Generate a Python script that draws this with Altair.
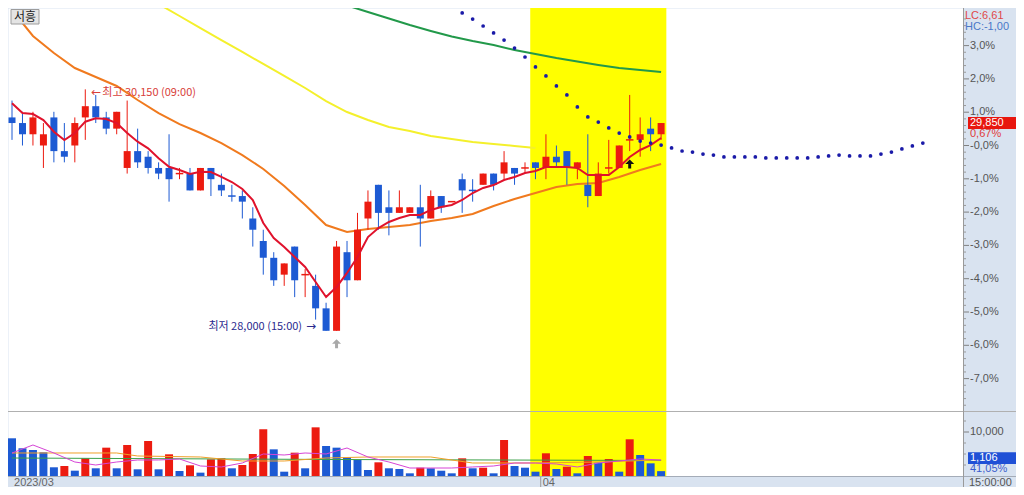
import altair as alt
import pandas as pd
import numpy as np

# ---------------- data ----------------
BASE_PRICE = 29650            # price shown as 0,0 %
HIGH_TIME = "09:00"
LOW_TIME = "15:00"
LC_TEXT = "LC:6,61"
HC_TEXT = "HC:-1,00"
VOL_RATIO = 41.05
TODAY_START = 49.5            # highlighted session (candle index)
TODAY_END = 62.5
MONTH_BREAK = 50.5
DATE_LABELS = ["2023/03", "04"]
DATE_POS = [0, 50.5]
TIME_LABEL = "15:00:00"
STOCK_NAME = "서흥"

opens = [29900, 29850, 29750, 29650, 29900, 29600, 29650, 29900, 30000, 29900,
         29800, 29450, 29600, 29550, 29450, 29450, 29400, 29400, 29250, 29450,
         29300, 29200, 29200, 29000, 28800, 28650, 28500, 28750, 28500, 28400,
         28200, 28000, 28700, 28450, 29000, 29300, 29100, 29050, 29050, 29100,
         29000, 29200, 29150, 29350, 29250, 29300, 29400, 29400, 29450, 29450,
         29500, 29450, 29550, 29600, 29450, 29300, 29200, 29450, 29450, 29700,
         29700, 29800, 29750]
highs = [30050, 29950, 29950, 29850, 29950, 29850, 29900, 30150, 30100, 29950,
         29950, 30050, 29800, 29600, 29500, 29750, 29450, 29450, 29450, 29450,
         29400, 29300, 29250, 29100, 28900, 28700, 28600, 28750, 28550, 28500,
         28250, 28800, 28800, 29050, 29250, 29300, 29250, 29250, 29100, 29300,
         29250, 29200, 29150, 29400, 29350, 29400, 29400, 29600, 29450, 29500,
         29500, 29750, 29650, 29600, 29500, 29750, 29500, 29700, 29650, 30100,
         29900, 29900, 29850]
lows = [29700, 29650, 29650, 29450, 29500, 29500, 29500, 29700, 29850, 29750,
        29750, 29400, 29450, 29400, 29350, 29150, 29350, 29250, 29250, 29200,
        29200, 29150, 29000, 28750, 28500, 28400, 28400, 28300, 28300, 28100,
        28000, 28000, 28300, 28450, 28900, 28900, 28850, 29050, 29050, 28750,
        29000, 29050, 29150, 29050, 29150, 29300, 29250, 29350, 29300, 29400,
        29350, 29350, 29450, 29300, 29350, 29100, 29200, 29400, 29450, 29600,
        29550, 29600, 29700]
closes = [29850, 29750, 29900, 29750, 29600, 29550, 29850, 30000, 29900, 29800,
          29950, 29600, 29500, 29450, 29400, 29350, 29400, 29250, 29450, 29350,
          29250, 29200, 29150, 28900, 28650, 28450, 28600, 28450, 28500, 28200,
          28000, 28750, 28450, 28900, 29150, 29050, 29050, 29100, 29100, 29000,
          29200, 29100, 29150, 29250, 29250, 29400, 29300, 29500, 29400, 29450,
          29450, 29550, 29500, 29450, 29500, 29200, 29400, 29450, 29650, 29700,
          29750, 29750, 29850]
volumes = [8570, 6300, 5910, 5390, 1980, 2270, 1210, 4020, 1750, 6440,
           1750, 7050, 1520, 7950, 1520, 4930, 1140, 2430, 760, 3790,
           4020, 1750, 2500, 5000, 10610, 6060, 980, 5300, 1750, 11060,
           6820, 6440, 4250, 3640, 1360, 3110, 1750, 1590, 610, 1890,
           1750, 1200, 610, 4020, 1750, 1890, 610, 8180, 2270, 1890,
           980, 5160, 1590, 2110, 610, 4550, 3030, 3860, 980, 8340,
           4770, 2880, 1106]

# price moving-average lines
ma_short = [30026, 29939, 29930, 29877, 29773, 29699, 29761, 29862, 29892, 29886,
            29850, 29761, 29684, 29625, 29536, 29461, 29432, 29396, 29417, 29414,
            29370, 29325, 29263, 29165, 28960, 28826, 28746, 28657, 28568, 28435,
            28301, 28390, 28515, 28657, 28835, 28915, 28969, 29004, 29031, 29031,
            29076, 29102, 29120, 29165, 29227, 29272, 29298, 29343, 29370, 29405,
            29423, 29459, 29459, 29459, 29450, 29387, 29387, 29387, 29459, 29548,
            29610, 29654, 29717]
ma_mid_idx = list(range(0, 63, 2))
ma_mid = [30856, 30625, 30474, 30340, 30260, 30180, 30055, 29939, 29841, 29761,
          29672, 29565, 29441, 29289, 29120, 28942, 28880, 28907, 28924, 28942,
          28978, 29004, 29040, 29111, 29174, 29227, 29280, 29307, 29316, 29370,
          29432, 29485]
ma_long_idx = [13] + list(range(14, 51, 2))
ma_long = [30954, 30910, 30803, 30696, 30589, 30483, 30376, 30269, 30162, 30046,
           29948, 29877, 29815, 29779, 29735, 29708, 29681, 29663, 29646, 29628]
ma_longest_idx = list(range(30, 63, 2))
ma_longest = [30963, 30897, 30839, 30781, 30723, 30670, 30621, 30580, 30545, 30500,
              30465, 30429, 30398, 30367, 30340, 30322, 30304]
proj_idx = list(range(41, 88))
proj = [30954, 30892, 30830, 30776, 30714, 30652, 30589, 30518, 30438, 30349,
        30269, 30180, 30100, 29993, 29904, 29859, 29806, 29761, 29726, 29690,
        29672, 29654, 29628, 29601, 29592, 29574, 29565, 29548, 29548, 29548,
        29548, 29539, 29539, 29539, 29539, 29539, 29548, 29557, 29565, 29557,
        29557, 29557, 29574, 29592, 29619, 29646, 29672]

# volume average lines
vma_short_idx = list(range(0, 63, 2))
vma_short = [5228, 7046, 5228, 3182, 2500, 3182, 3637, 3637, 3864, 2273,
             2046, 2955, 5001, 4773, 5228, 5001, 6364, 4319, 3182, 1818,
             1818, 1818, 2046, 2273, 2955, 2955, 2728, 2046, 2955, 3410,
             3864, 3637]
vma_mid_idx = [0, 10, 12, 18, 22, 26, 30, 34, 40, 44, 50, 56, 62]
vma_mid = [5228, 5228, 4546, 4319, 3410, 3410, 4091, 4319, 4319, 2955, 2955, 3182, 3637]
vma_long_idx = [0, 31, 62]
vma_long = [4091, 3750, 3523]

signal_idx = [31, 59]
signal_col = ["#a9a9a9", "#111111"]

# ---------------- styling / layout ----------------
RED = "#ec1b10"
BLUE = "#1d5ad3"
PANEL = "#d9e3f0"
W, H, PAD_R = 955, 479, 53
MAIN_BOTTOM = 403
ZERO_Y = 137.5
PX_PER_PCT = 33.3
STEP, FIRST_X = 10.58, -1.0

x_scale = alt.Scale(domain=[(0 - FIRST_X) / STEP, (W - FIRST_X) / STEP], nice=False, zero=False)
p_top = BASE_PRICE * (1 + ZERO_Y / PX_PER_PCT / 100)
p_bot = BASE_PRICE * (1 - (MAIN_BOTTOM - ZERO_Y) / PX_PER_PCT / 100)
y_main = alt.Scale(domain=[p_bot, p_top], range=[MAIN_BOTTOM, 0], nice=False, zero=False)
y_vol = alt.Scale(domain=[0, 10000], range=[468, 424], nice=False, zero=False)


def X(f):
    return alt.X(f, type="quantitative", scale=x_scale, axis=None)


def YP(f):
    return alt.Y(f, type="quantitative", scale=y_main, axis=None)


def YV(f):
    return alt.Y(f, type="quantitative", scale=y_vol, axis=None)


df = pd.DataFrame({"i": range(len(closes)), "open": opens, "high": highs,
                   "low": lows, "close": closes, "vol": volumes})
prev_c = df["close"].shift(1)
up = (df["close"] > df["open"]) | ((df["close"] == df["open"]) & (df["close"] > prev_c))
df["col"] = np.where(up, RED, BLUE)
df["vcol"] = np.where(df["vol"] > df["vol"].shift(1), RED, BLUE)
df["xl"] = df["i"] - 0.36
df["xr"] = df["i"] + 0.36

one = pd.DataFrame({"a": [0]})

# yellow session band
band = alt.Chart(pd.DataFrame({"s": [TODAY_START], "e": [TODAY_END]})).mark_rect(
    color="#ffff00").encode(x=X("s"), x2=alt.X2("e"), y=alt.value(-10), y2=alt.value(468))

# ---- main panel ----
def pline(xs, ys, color, w):
    d = pd.DataFrame({"i": xs, "p": ys})
    return alt.Chart(d).mark_line(color=color, strokeWidth=w).encode(x=X("i"), y=YP("p"))

l_mid = pline(ma_mid_idx, ma_mid, "#f07a1e", 2)
l_long = pline(ma_long_idx, ma_long, "#f4f02c", 2)
l_longest = pline(ma_longest_idx, ma_longest, "#22994a", 2)

wicks = alt.Chart(df).mark_rule(strokeWidth=1).encode(
    x=X("i"), y=YP("low"), y2=alt.Y2("high"), color=alt.Color("col:N", scale=None))
bodies = alt.Chart(df).transform_filter("datum.open != datum.close").mark_bar(size=7).encode(
    x=X("i"), y=YP("open"), y2=alt.Y2("close"), color=alt.Color("col:N", scale=None))
doji = alt.Chart(df).transform_filter("datum.open == datum.close").mark_rule(strokeWidth=1.5).encode(
    x=X("xl"), x2=alt.X2("xr"), y=YP("open"), color=alt.Color("col:N", scale=None))

l_short = pline(list(range(len(ma_short))), ma_short, "#e0122c", 2)

dots = alt.Chart(pd.DataFrame({"i": proj_idx, "p": proj})).mark_point(
    filled=True, size=14, opacity=1, color="#1a1aa8").encode(x=X("i"), y=YP("p"))

hi_i = int(df["high"].idxmax())
lo_i = int(df["low"].idxmin())
hi_df = pd.DataFrame({"i": [hi_i], "p": [int(df["high"].max())]})
hi_df["t"] = "최고 " + f"{int(df['high'].max()):,}" + f" ({HIGH_TIME})"
lo_df = pd.DataFrame({"i": [lo_i], "p": [int(df["low"].min())]})
lo_df["t"] = "최저 " + f"{int(df['low'].min()):,}" + f" ({LOW_TIME})"
HI_COL, LO_COL = "#d8403a", "#2a2a8e"
hi_txt = alt.Chart(hi_df).mark_text(align="left", baseline="middle", dx=17, dy=4, fontSize=11,
                                    font="Noto Sans CJK KR", color=HI_COL).encode(
    x=X("i"), y=YP("p"), text="t:N")
hi_arr = alt.Chart(hi_df).mark_text(align="center", baseline="middle", dx=11, dy=3, fontSize=12,
                                    font="DejaVu Sans", color=HI_COL, text="←").encode(x=X("i"), y=YP("p"))
lo_txt = alt.Chart(lo_df).mark_text(align="right", baseline="middle", dx=-24, dy=-4, fontSize=11,
                                    font="Noto Sans CJK KR", color=LO_COL).encode(
    x=X("i"), y=YP("p"), text="t:N")
lo_arr = alt.Chart(lo_df).mark_text(align="center", baseline="middle", dx=-15, dy=-5, fontSize=12,
                                    font="DejaVu Sans", color=LO_COL, text="→").encode(x=X("i"), y=YP("p"))

sig_df = pd.DataFrame({"i": signal_idx, "c": signal_col})
sig_df["p"] = [int(df.loc[k, "low"]) for k in signal_idx]
ARROW = "M-0.33,1L-0.33,0L-1,0L0,-1L1,0L0.33,0L0.33,1Z"
signals = alt.Chart(sig_df).mark_point(shape=ARROW, filled=True, size=81, opacity=1, yOffset=13).encode(
    x=X("i"), y=YP("p"), color=alt.Color("c:N", scale=None))

# right price axis (percent of BASE_PRICE)
major_pct = list(range(-7, 4))
tick_df = pd.DataFrame({"pct": major_pct})
tick_df["p"] = BASE_PRICE * (1 + tick_df["pct"] / 100)
tick_df["label"] = ["-0,0%" if k == 0 else f"{k:.1f}".replace(".", ",") + "%" for k in major_pct]
minor_df = pd.DataFrame({"pct": [round(k * 0.2, 1) for k in range(-39, 21) if k % 5 != 0]})
minor_df["p"] = BASE_PRICE * (1 + minor_df["pct"] / 100)
maj_ticks = alt.Chart(tick_df).mark_rule(color="#808080").encode(x=alt.value(955), x2=alt.value(961), y=YP("p"))
min_ticks = alt.Chart(minor_df).mark_rule(color="#9a9a9a").encode(x=alt.value(955), x2=alt.value(958), y=YP("p"))
tick_lbl = alt.Chart(tick_df).mark_text(align="left", baseline="middle", fontSize=11, font="Liberation Sans",
                                        color="#555555").encode(x=alt.value(962), y=YP("p"), text="label:N")

last_c = int(df["close"].iloc[-1])
box_df = pd.DataFrame({"p": [last_c], "t": [f"{last_c:,}"],
                       "q": [f"{(last_c / BASE_PRICE - 1) * 100:.2f}".replace(".", ",") + "%"]})
BOX = "M-1,-0.22L1,-0.22L1,0.22L-1,0.22Z"
pbox = alt.Chart(box_df).mark_point(shape=BOX, filled=True, size=2916, opacity=1, color="#e8160e").encode(
    x=alt.value(987), y=YP("p"))
pbox_t = alt.Chart(box_df).mark_text(align="left", baseline="middle", fontSize=11, font="Liberation Sans",
                                     color="white").encode(x=alt.value(962), y=YP("p"), text="t:N")
pbox_q = alt.Chart(box_df).mark_text(align="left", baseline="middle", dy=11, fontSize=11, font="Liberation Sans",
                                     color="#e03a3a").encode(x=alt.value(962), y=YP("p"), text="q:N")

main = alt.layer(l_mid, l_long, l_longest, wicks, bodies, doji, l_short, dots,
                 hi_arr, hi_txt, lo_arr, lo_txt, signals,
                 min_ticks, maj_ticks, tick_lbl, pbox, pbox_t, pbox_q)

# ---- volume panel ----
vbars = alt.Chart(df).mark_bar(size=8).encode(x=X("i"), y=YV("vol"), color=alt.Color("vcol:N", scale=None))


def vline(xs, ys, color):
    d = pd.DataFrame({"i": xs, "v": ys})
    return alt.Chart(d).mark_line(color=color, strokeWidth=1).encode(x=X("i"), y=YV("v"))

v_long = vline(vma_long_idx, vma_long, "#3aa048")
v_mid = vline(vma_mid_idx, vma_mid, "#f0a028")
v_short = vline(vma_short_idx, vma_short, "#d645d6")

vt_df = pd.DataFrame({"v": [10000], "label": [f"{10000:,}"]})
vminor_df = pd.DataFrame({"v": [2500, 5000, 7500, 12500]})
v_maj = alt.Chart(vt_df).mark_rule(color="#808080").encode(x=alt.value(955), x2=alt.value(961), y=YV("v"))
v_min = alt.Chart(vminor_df).mark_rule(color="#9a9a9a").encode(x=alt.value(955), x2=alt.value(958), y=YV("v"))
v_lbl = alt.Chart(vt_df).mark_text(align="left", baseline="middle", fontSize=11, font="Liberation Sans",
                                   color="#555555").encode(x=alt.value(962), y=YV("v"), text="label:N")
last_v = int(df["vol"].iloc[-1])
vbox_df = pd.DataFrame({"v": [last_v], "t": [f"{last_v:,}"],
                        "q": [f"{VOL_RATIO:.2f}".replace(".", ",") + "%"]})
vbox = alt.Chart(vbox_df).mark_point(shape=BOX, filled=True, size=2916, opacity=1, color="#1f50d6",
                                     yOffset=-13).encode(x=alt.value(987), y=YV("v"))
vbox_t = alt.Chart(vbox_df).mark_text(align="left", baseline="middle", dy=-13, fontSize=11,
                                      font="Liberation Sans", color="white").encode(
    x=alt.value(962), y=YV("v"), text="t:N")
vbox_q = alt.Chart(vbox_df).mark_text(align="left", baseline="middle", dy=-2, fontSize=11,
                                      font="Liberation Sans", color="#3a5ccc").encode(
    x=alt.value(962), y=YV("v"), text="q:N")

vol = alt.layer(vbars, v_long, v_mid, v_short, v_min, v_maj, v_lbl, vbox, vbox_t, vbox_q)

# ---- frame decorations ----
sep = alt.Chart(one).mark_rule(color="#b0b0b0").encode(x=alt.value(0), x2=alt.value(1008), y=alt.value(403.5))
bottom = alt.Chart(one).mark_rect(color=PANEL).encode(x=alt.value(0), x2=alt.value(1008),
                                                       y=alt.value(469), y2=alt.value(479))
bottom_line = alt.Chart(one).mark_rule(color="#a4acb8").encode(x=alt.value(0), x2=alt.value(1008),
                                                                y=alt.value(468.5))
vaxis = alt.Chart(one).mark_rule(color="#9a9a9a").encode(x=alt.value(955.5), y=alt.value(0), y2=alt.value(479))
mtick = alt.Chart(pd.DataFrame({"i": [MONTH_BREAK]})).mark_rule(color="#9a9a9a").encode(
    x=X("i"), y=alt.value(469), y2=alt.value(479))
dates = alt.Chart(pd.DataFrame({"i": DATE_POS, "t": DATE_LABELS})).mark_text(
    align="left", baseline="alphabetic", dx=2, fontSize=11, font="Liberation Sans", color="#666666").encode(
    x=X("i"), y=alt.value(478), text="t:N")
tlabel = alt.Chart(one).mark_text(align="left", baseline="alphabetic", fontSize=11, font="Liberation Sans",
                                  color="#555555", text=TIME_LABEL).encode(x=alt.value(961), y=alt.value(478))
lc = alt.Chart(one).mark_text(align="left", baseline="middle", fontSize=11, font="Liberation Sans",
                              color="#e04848", text=LC_TEXT).encode(x=alt.value(957), y=alt.value(8))
hc = alt.Chart(one).mark_text(align="left", baseline="middle", fontSize=11, font="Liberation Sans",
                              color="#4a78c8", text=HC_TEXT).encode(x=alt.value(957), y=alt.value(19))
name_box = alt.Chart(one).mark_rect(fill="#e4e4e4", stroke="#9c9c9c", strokeWidth=1).encode(
    x=alt.value(3), x2=alt.value(31), y=alt.value(1.5), y2=alt.value(16))
name_txt = alt.Chart(one).mark_text(align="center", baseline="middle", fontSize=12, font="Noto Sans CJK KR",
                                    color="#222222", text=STOCK_NAME).encode(x=alt.value(17), y=alt.value(9))

chart = alt.layer(band, main, vol, sep, bottom, bottom_line, vaxis, mtick, dates, tlabel,
                  lc, hc, name_box, name_txt).resolve_scale(y="independent").properties(
    width=W, height=H,
    autosize=alt.AutoSizeParams(type="none"),
    padding={"left": 0, "top": 0, "right": PAD_R, "bottom": 0},
).configure(background=PANEL).configure_view(fill="white", stroke="transparent")

chart.save("out.html", embed_options={"renderer": "svg", "actions": False})
